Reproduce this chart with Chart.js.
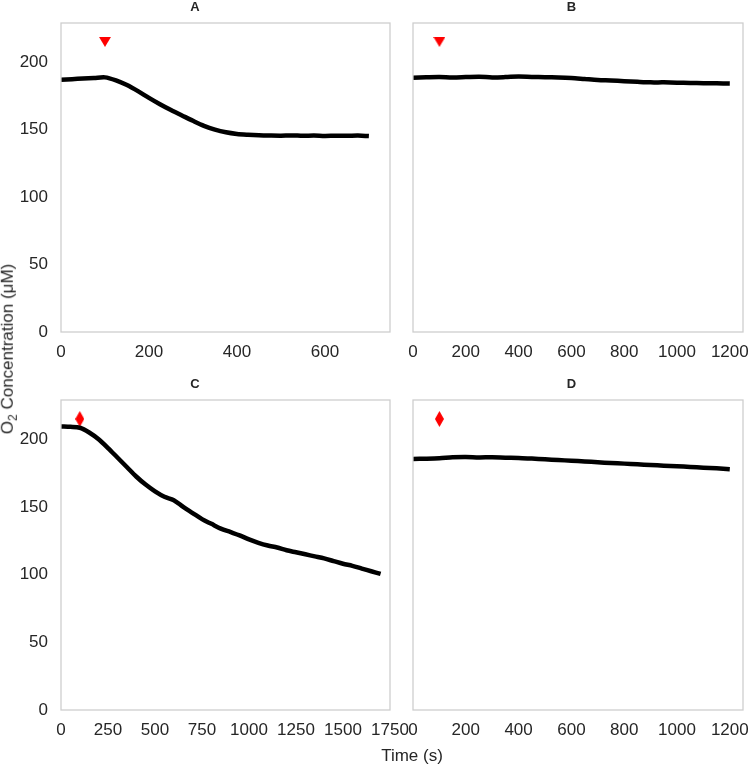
<!DOCTYPE html>
<html>
<head>
<meta charset="utf-8">
<script src="https://cdn.jsdelivr.net/npm/chart.js@4.4.0/dist/chart.umd.min.js"></script>
<style>
  body { margin: 0; background: #fff; width: 750px; height: 766px; position: relative; overflow: hidden; font-family: "Liberation Sans", Arial, sans-serif; color: #262626; }
  canvas { position: absolute; }
  .lbl { position: absolute; white-space: nowrap; font-size: 17px; transform: translate(-50%, -50%); }
  .ylbl { transform: translate(-50%, -50%) rotate(-90deg); }
  .ylbl sub { font-size: 12px; }
</style>
</head>
<body>
<canvas id="panelA" width="405" height="370" style="left:0;top:0"></canvas>
<canvas id="panelB" width="350" height="370" style="left:400px;top:0"></canvas>
<canvas id="panelC" width="412" height="380" style="left:0;top:377px"></canvas>
<canvas id="panelD" width="350" height="380" style="left:400px;top:377px"></canvas>
<div class="lbl ylbl" style="left:9px;top:349px">O<sub>2</sub> Concentration (μM)</div>
<div class="lbl" style="left:412px;top:756px">Time (s)</div>
<script>
// oxygen traces
var timeA = [0, 25, 50, 75, 100, 125, 150, 175, 200, 225, 250, 275, 300, 325, 350, 375, 400,
             425, 450, 475, 500, 525, 550, 575, 600, 625, 650, 675, 700];
var o2A = [187.0, 187.4, 187.8, 188.2, 188.7, 186.5, 183.0, 178.5, 173.5, 168.8, 164.5, 160.5, 156.5,
           152.8, 150.0, 148.0, 146.8, 146.2, 145.8, 145.6, 145.5, 145.7, 145.4, 145.6, 145.3, 145.5,
           145.4, 145.6, 145.2];

var timeB = [0, 50, 100, 150, 200, 250, 300, 350, 400, 450, 500, 550, 600, 650, 700, 750, 800,
             850, 900, 950, 1000, 1050, 1100, 1150, 1200];
var o2B = [188.5, 188.8, 189.0, 188.6, 188.9, 189.2, 188.7, 188.9, 189.3, 189.0, 188.8, 188.6, 188.2,
           187.5, 186.8, 186.4, 185.9, 185.4, 185.0, 185.0, 184.8, 184.6, 184.4, 184.3, 184.2];

var timeC = [0, 50, 100, 150, 200, 250, 300, 350, 400, 450, 500, 550, 600, 650, 700, 750, 800, 850,
             900, 950, 1000, 1050, 1100, 1150, 1200, 1250, 1300, 1350, 1400, 1450, 1500, 1550, 1600,
             1650, 1700];
var o2C = [209.5, 209.2, 208.5, 205.0, 200.0, 193.5, 186.5, 179.5, 172.5, 166.5, 161.5, 157.5, 155.0,
           150.0, 145.5, 141.0, 137.5, 134.0, 131.5, 129.0, 126.0, 123.5, 121.5, 120.0, 118.0, 116.5,
           115.0, 113.5, 112.0, 110.0, 108.0, 106.5, 104.5, 102.5, 100.5];

var timeD = timeB;
var o2D = [185.5, 185.6, 185.9, 186.7, 186.9, 186.6, 186.7, 186.4, 186.2, 185.7, 185.2, 184.6, 184.2,
           183.6, 183.0, 182.4, 182.0, 181.5, 181.0, 180.5, 180.1, 179.5, 179.0, 178.5, 177.8];

// addition time and marker height
var markTime = [100];
var markLevel = [215];

var yMax = 229;

// marker shapes
function triangleDown() {
    var c = document.createElement('canvas');
    c.width = 12; c.height = 10;
    var g = c.getContext('2d');
    g.fillStyle = '#ff0000';
    g.beginPath(); g.moveTo(0, 0); g.lineTo(12, 0); g.lineTo(6, 10); g.closePath(); g.fill();
    return c;
}
function thinDiamond() {
    var c = document.createElement('canvas');
    c.width = 9; c.height = 16;
    var g = c.getContext('2d');
    g.fillStyle = '#ff0000';
    g.beginPath(); g.moveTo(4.5, 0); g.lineTo(9, 8); g.lineTo(4.5, 16); g.lineTo(0, 8); g.closePath(); g.fill();
    return c;
}

var boxPlugin = {
    id: 'box',
    afterDraw: function(chart) {
        var a = chart.chartArea, ctx = chart.ctx;
        ctx.save();
        ctx.strokeStyle = '#cccccc';
        ctx.lineWidth = 1.25;
        ctx.strokeRect(a.left, a.top, a.right - a.left, a.bottom - a.top);
        ctx.restore();
    }
};

var tickFont = { family: '"Liberation Sans", Arial, sans-serif', size: 17 };

function createPanel(id, title, times, values, xMax, xStep, showY, yWidth, xHeight, padRight, marker) {
    var ctx = document.getElementById(id);
    return new Chart(ctx, {
        type: 'scatter',
        data: {
            datasets: [{
                data: times.map((t, i) => ({ x: t, y: values[i] })),
                showLine: true,
                borderColor: '#000000',
                borderWidth: 4.5,
                pointRadius: 0,
                tension: 0.3
            }, {
                data: markTime.map((t, i) => ({ x: t, y: markLevel[i] })),
                pointStyle: marker,
                pointRadius: 6,
                clip: false
            }]
        },
        options: {
            responsive: false,
            animation: false,
            devicePixelRatio: 1,
            layout: { padding: { left: 0, top: 0, right: padRight, bottom: 0 } },
            scales: {
                x: {
                    type: 'linear',
                    min: 0,
                    max: xMax,
                    grid: { display: false, drawTicks: false },
                    border: { display: false },
                    ticks: {
                        stepSize: xStep,
                        includeBounds: false,
                        autoSkip: false,
                        maxRotation: 0,
                        padding: 10,
                        color: '#262626',
                        font: tickFont,
                        callback: function(value) { return String(value); }
                    },
                    afterFit: function(s) {
                        s.height = xHeight;
                        s.paddingLeft = 0;
                        s.paddingRight = 0;
                    }
                },
                y: {
                    min: 0,
                    max: yMax,
                    grid: { display: false, drawTicks: false },
                    border: { display: false },
                    ticks: {
                        display: showY,
                        stepSize: 50,
                        includeBounds: false,
                        padding: 13,
                        color: '#262626',
                        font: tickFont,
                        callback: function(value) { return String(value); }
                    },
                    afterFit: function(s) {
                        s.width = yWidth;
                        s.paddingTop = 0;
                        s.paddingBottom = 0;
                    }
                }
            },
            plugins: {
                legend: { display: false },
                tooltip: { enabled: false },
                title: {
                    display: true,
                    text: title,
                    color: '#262626',
                    font: { family: '"Liberation Sans", Arial, sans-serif', size: 13, weight: 'bold' },
                    padding: { top: 0, bottom: 7.4 }
                }
            }
        },
        plugins: [boxPlugin]
    });
}

var tri = triangleDown();
var dia = thinDiamond();
createPanel('panelA', 'A', timeA, o2A, 748, 200, true, 61, 38, 15, tri);
createPanel('panelB', 'B', timeB, o2B, 1250, 200, false, 13, 38, 7, tri);
createPanel('panelC', 'C', timeC, o2C, 1750, 250, true, 61, 47, 22, dia);
createPanel('panelD', 'D', timeD, o2D, 1250, 200, false, 13, 47, 7, dia);
</script>
</body>
</html>
